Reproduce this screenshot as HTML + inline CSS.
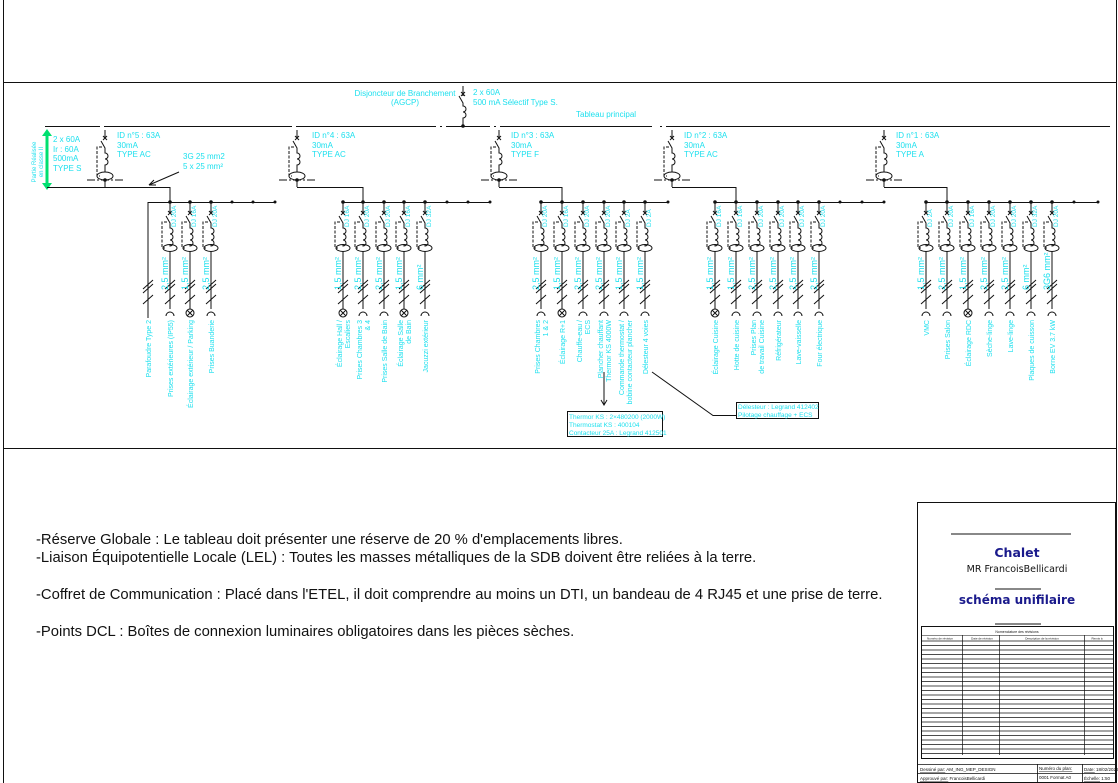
<!DOCTYPE html>
<html><head><meta charset="utf-8"><style>
html,body{margin:0;padding:0;background:#fff;width:1118px;height:783px;overflow:hidden}
svg{display:block}
.c{fill:#1ee0ee;font-family:"Liberation Sans",sans-serif}
.k{stroke:#111;fill:none;stroke-width:1}
.n{font-family:"Liberation Sans",sans-serif;font-size:14.8px;fill:#111}
</style></head><body>
<svg width="1118" height="783" viewBox="0 0 1118 783">
<defs>
<g id="br">
 <line x1="0" y1="202" x2="0" y2="213" stroke="#111"/>
 <circle cx="0" cy="202" r="1.8" fill="#111"/>
 <path d="M-2,211 L2,215 M2,211 L-2,215" stroke="#111"/>
 <path d="M-4,216 L0,223 L0,228 a3,3 0 0 1 0,6 a3,3 0 0 1 0,6 a3,3 0 0 1 0,6 L0,245" class="k"/>
 <path d="M-3,222 L-8,222 L-8,248 L-5,248" class="k" stroke-dasharray="3,1.5"/>
 <ellipse cx="0" cy="248" rx="7" ry="3.5" class="k"/>
 <line x1="0" y1="251" x2="0" y2="309" stroke="#111"/>
 <path d="M-5,289 L5,280 M-5,293 L5,284 M-5,304 L5,295" stroke="#111"/>
</g>
<path id="cup" d="M-4,316 a4,4 0 0 1 8,0" class="k"/>
<g id="lamp"><circle cx="0" cy="313" r="4" class="k"/><path d="M-3,310 L3,316 M3,310 L-3,316" stroke="#111"/></g>
<g id="ib">
 <line x1="0" y1="130" x2="0" y2="138" stroke="#111"/>
 <path d="M-2,136 L2,140 M2,136 L-2,140" stroke="#111"/>
 <path d="M-4,141 L0,148 L0,153 a3,3 0 0 1 0,6 a3,3 0 0 1 0,6 L0,172" class="k"/>
 <path d="M-3,147 L-8,147 L-8,176 L-5,176" class="k" stroke-dasharray="3,1.5"/>
 <ellipse cx="0" cy="176" rx="8" ry="4" class="k"/>
 <line x1="-18" y1="180" x2="18" y2="180" stroke="#111" stroke-dasharray="8,2,2,2"/>
 <line x1="0" y1="180" x2="0" y2="187" stroke="#111"/>
 <circle cx="0" cy="180" r="1.8" fill="#111"/>
</g>
</defs>

<path d="M3.5,0 V783 M1116.5,0 V783 M3,82.5 H1117 M3,448.5 H1117" class="k"/>

<line x1="463" y1="86" x2="463" y2="96" stroke="#111"/>
<path d="M461,92 L465,96 M465,92 L461,96" stroke="#111"/>
<path d="M459,96 L463,103 L463,106 a3,3 0 0 1 0,6 a3,3 0 0 1 0,6 L463,126" class="k"/>
<circle cx="463" cy="126" r="1.8" fill="#111"/>
<text class="c" font-size="8" x="405" y="96" text-anchor="middle">Disjoncteur de Branchement</text>
<text class="c" font-size="8" x="405" y="105" text-anchor="middle">(AGCP)</text>
<text class="c" font-size="8" x="473" y="95">2 x 60A</text>
<text class="c" font-size="8" x="473" y="105">500 mA Sélectif Type S.</text>
<text class="c" font-size="8" x="576" y="117">Tableau principal</text>

<path d="M45,126.5 H436 M440,126.5 H442 M446,126.5 H490 M494,126.5 H496 M500,126.5 H652 M660,126.5 H662 M666,126.5 H1110" stroke="#111"/>
<path d="M100,126.5 H104 M292,126.5 H296" stroke="#fff" stroke-width="2"/>

<line x1="47" y1="133" x2="47" y2="186" stroke="#00e070" stroke-width="3"/>
<path d="M42,136 L47,129 L52,136 Z M42,183 L47,190 L52,183 Z" fill="#00e070"/>
<text class="c" font-size="6" transform="translate(36,162) rotate(-90)" text-anchor="middle">Partie Réalisée</text>
<text class="c" font-size="6" transform="translate(43,162) rotate(-90)" text-anchor="middle">en classe II</text>
<text class="c" font-size="8" x="53" y="142">2 x 60A</text>
<text class="c" font-size="8" x="53" y="152">Ir : 60A</text>
<text class="c" font-size="8" x="53" y="161">500mA</text>
<text class="c" font-size="8" x="53" y="171">TYPE S</text>
<text class="c" font-size="8" x="183" y="159">3G 25 mm2</text>
<text class="c" font-size="8" x="183" y="169">5 x 25 mm²</text>
<path d="M179,172 L149,185" stroke="#111"/><path d="M149,185 L154,180 M149,185 L156,185" stroke="#111"/>

<use href="#ib" x="105"/>
<text class="c" font-size="8" x="117" y="138">ID n°5 : 63A</text><text class="c" font-size="8" x="117" y="148">30mA</text><text class="c" font-size="8" x="117" y="157">TYPE AC</text>
<path d="M47,187.5 H170 V202 M148,202.5 H275 M148,202 V318" class="k"/>
<path d="M143,289 L153,280 M143,293 L153,284 M143,304 L153,295" stroke="#111"/>
<circle cx="232" cy="202" r="1.5" fill="#111"/><circle cx="253" cy="202" r="1.5" fill="#111"/><circle cx="275" cy="202" r="1.5" fill="#111"/>
<use href="#br" x="170"/><use href="#cup" x="170"/>
<use href="#br" x="190"/><use href="#lamp" x="190"/>
<use href="#br" x="211"/><use href="#cup" x="211"/>

<use href="#ib" x="297"/>
<text class="c" font-size="8" x="312" y="138">ID n°4 : 63A</text><text class="c" font-size="8" x="312" y="148">30mA</text><text class="c" font-size="8" x="312" y="157">TYPE AC</text>
<path d="M297,187.5 H363 V202 M343,202.5 H490" class="k"/>
<circle cx="447" cy="202" r="1.5" fill="#111"/><circle cx="468" cy="202" r="1.5" fill="#111"/><circle cx="490" cy="202" r="1.5" fill="#111"/>
<use href="#br" x="343"/><use href="#lamp" x="343"/>
<use href="#br" x="363"/><use href="#cup" x="363"/>
<use href="#br" x="384"/><use href="#cup" x="384"/>
<use href="#br" x="404"/><use href="#lamp" x="404"/>
<use href="#br" x="425"/><use href="#cup" x="425"/>

<use href="#ib" x="499"/>
<text class="c" font-size="8" x="511" y="138">ID n°3 : 63A</text><text class="c" font-size="8" x="511" y="148">30mA</text><text class="c" font-size="8" x="511" y="157">TYPE F</text>
<path d="M499,187.5 H562 V202 M541,202.5 H668" class="k"/>
<circle cx="668" cy="202" r="1.5" fill="#111"/>
<use href="#br" x="541"/><use href="#cup" x="541"/>
<use href="#br" x="562"/><use href="#lamp" x="562"/>
<use href="#br" x="583"/><use href="#cup" x="583"/>
<use href="#br" x="604"/><use href="#cup" x="604"/>
<use href="#br" x="624"/><use href="#cup" x="624"/>
<use href="#br" x="645"/><use href="#cup" x="645"/>

<use href="#ib" x="672"/>
<text class="c" font-size="8" x="684" y="138">ID n°2 : 63A</text><text class="c" font-size="8" x="684" y="148">30mA</text><text class="c" font-size="8" x="684" y="157">TYPE AC</text>
<path d="M672,187.5 H736 V202 M715,202.5 H884" class="k"/>
<circle cx="840" cy="202" r="1.5" fill="#111"/><circle cx="862" cy="202" r="1.5" fill="#111"/><circle cx="884" cy="202" r="1.5" fill="#111"/>
<use href="#br" x="715"/><use href="#lamp" x="715"/>
<use href="#br" x="736"/><use href="#cup" x="736"/>
<use href="#br" x="757"/><use href="#cup" x="757"/>
<use href="#br" x="778"/><use href="#cup" x="778"/>
<use href="#br" x="798"/><use href="#cup" x="798"/>
<use href="#br" x="819"/><use href="#cup" x="819"/>

<use href="#ib" x="884"/>
<text class="c" font-size="8" x="896" y="138">ID n°1 : 63A</text><text class="c" font-size="8" x="896" y="148">30mA</text><text class="c" font-size="8" x="896" y="157">TYPE A</text>
<path d="M884,187.5 H947 V202 M926,202.5 H1098" class="k"/>
<circle cx="1074" cy="202" r="1.5" fill="#111"/><circle cx="1098" cy="202" r="1.5" fill="#111"/>
<use href="#br" x="926"/><use href="#cup" x="926"/>
<use href="#br" x="947"/><use href="#cup" x="947"/>
<use href="#br" x="968"/><use href="#lamp" x="968"/>
<use href="#br" x="989"/><use href="#cup" x="989"/>
<use href="#br" x="1010"/><use href="#cup" x="1010"/>
<use href="#br" x="1031"/><use href="#cup" x="1031"/>
<use href="#br" x="1052"/><use href="#cup" x="1052"/>

<g class="c" font-size="6.5">
<text transform="translate(176,227) rotate(-90)">DJ 20A</text>
<text transform="translate(196,227) rotate(-90)">DJ 16A</text>
<text transform="translate(217,227) rotate(-90)">DJ 20A</text>
<text transform="translate(349,227) rotate(-90)">DJ 16A</text>
<text transform="translate(369,227) rotate(-90)">DJ 20A</text>
<text transform="translate(390,227) rotate(-90)">DJ 20A</text>
<text transform="translate(410,227) rotate(-90)">DJ 16A</text>
<text transform="translate(431,227) rotate(-90)">DJ 32A</text>
<text transform="translate(547,227) rotate(-90)">DJ 20A</text>
<text transform="translate(568,227) rotate(-90)">DJ 16A</text>
<text transform="translate(589,227) rotate(-90)">DJ 20A</text>
<text transform="translate(610,227) rotate(-90)">DJ 20A</text>
<text transform="translate(630,227) rotate(-90)">DJ 2A</text>
<text transform="translate(651,227) rotate(-90)">DJ 2A</text>
<text transform="translate(721,227) rotate(-90)">DJ 16A</text>
<text transform="translate(742,227) rotate(-90)">DJ 16A</text>
<text transform="translate(763,227) rotate(-90)">DJ 20A</text>
<text transform="translate(784,227) rotate(-90)">DJ 20A</text>
<text transform="translate(804,227) rotate(-90)">DJ 20A</text>
<text transform="translate(825,227) rotate(-90)">DJ 20A</text>
<text transform="translate(932,227) rotate(-90)">DJ 2A</text>
<text transform="translate(953,227) rotate(-90)">DJ 20A</text>
<text transform="translate(974,227) rotate(-90)">DJ 16A</text>
<text transform="translate(995,227) rotate(-90)">DJ 20A</text>
<text transform="translate(1016,227) rotate(-90)">DJ 20A</text>
<text transform="translate(1037,227) rotate(-90)">DJ 32A</text>
<text transform="translate(1058,227) rotate(-90)">DJ 20A</text>
</g>
<g class="c" font-size="9">
<text transform="translate(168,290) rotate(-90)">2,5 mm²</text>
<text transform="translate(188,290) rotate(-90)">1,5 mm²</text>
<text transform="translate(209,290) rotate(-90)">2,5 mm²</text>
<text transform="translate(341,290) rotate(-90)">1,5 mm²</text>
<text transform="translate(361,290) rotate(-90)">2,5 mm²</text>
<text transform="translate(382,290) rotate(-90)">2,5 mm²</text>
<text transform="translate(402,290) rotate(-90)">1,5 mm²</text>
<text transform="translate(423,290) rotate(-90)">6 mm²</text>
<text transform="translate(539,290) rotate(-90)">2,5 mm²</text>
<text transform="translate(560,290) rotate(-90)">1,5 mm²</text>
<text transform="translate(581,290) rotate(-90)">2,5 mm²</text>
<text transform="translate(602,290) rotate(-90)">2,5 mm²</text>
<text transform="translate(622,290) rotate(-90)">1,5 mm²</text>
<text transform="translate(643,290) rotate(-90)">1,5 mm²</text>
<text transform="translate(713,290) rotate(-90)">1,5 mm²</text>
<text transform="translate(734,290) rotate(-90)">1,5 mm²</text>
<text transform="translate(755,290) rotate(-90)">2,5 mm²</text>
<text transform="translate(776,290) rotate(-90)">2,5 mm²</text>
<text transform="translate(796,290) rotate(-90)">2,5 mm²</text>
<text transform="translate(817,290) rotate(-90)">2,5 mm²</text>
<text transform="translate(924,290) rotate(-90)">1,5 mm²</text>
<text transform="translate(945,290) rotate(-90)">2,5 mm²</text>
<text transform="translate(966,290) rotate(-90)">1,5 mm²</text>
<text transform="translate(987,290) rotate(-90)">2,5 mm²</text>
<text transform="translate(1008,290) rotate(-90)">2,5 mm²</text>
<text transform="translate(1029,290) rotate(-90)">6 mm²</text>
<text transform="translate(1050,290) rotate(-90)">3G6 mm²</text>
</g>
<g class="c" font-size="7" text-anchor="end">
<text transform="translate(151,320) rotate(-90)">Parafoudre Type 2</text>
<text transform="translate(173,320) rotate(-90)">Prises extérieures (IP55)</text>
<text transform="translate(193,320) rotate(-90)">Éclairage extérieur / Parking</text>
<text transform="translate(214,320) rotate(-90)">Prises Buanderie</text>
<text transform="translate(342,320) rotate(-90)">Éclairage Hall /</text>
<text transform="translate(350,320) rotate(-90)">Escaliers</text>
<text transform="translate(362,320) rotate(-90)">Prises Chambres 3</text>
<text transform="translate(370,320) rotate(-90)">&amp; 4</text>
<text transform="translate(387,320) rotate(-90)">Prises Salle de Bain</text>
<text transform="translate(403,320) rotate(-90)">Éclairage Salle</text>
<text transform="translate(411,320) rotate(-90)">de Bain</text>
<text transform="translate(428,320) rotate(-90)">Jacuzzi extérieur</text>
<text transform="translate(540,320) rotate(-90)">Prises Chambres</text>
<text transform="translate(548,320) rotate(-90)">1 &amp; 2</text>
<text transform="translate(565,320) rotate(-90)">Éclairage R+1</text>
<text transform="translate(582,320) rotate(-90)">Chauffe-eau /</text>
<text transform="translate(590,320) rotate(-90)">ECS</text>
<text transform="translate(603,320) rotate(-90)">Plancher chauffant</text>
<text transform="translate(611,320) rotate(-90)">Thermor KS 4000W</text>
<text transform="translate(624,320) rotate(-90)">Commande thermostat /</text>
<text transform="translate(632,320) rotate(-90)">bobine contacteur plancher</text>
<text transform="translate(648,320) rotate(-90)">Délesteur 4 voies</text>
<text transform="translate(718,320) rotate(-90)">Éclairage Cuisine</text>
<text transform="translate(739,320) rotate(-90)">Hotte de cuisine</text>
<text transform="translate(756,320) rotate(-90)">Prises Plan</text>
<text transform="translate(764,320) rotate(-90)">de travail Cuisine</text>
<text transform="translate(781,320) rotate(-90)">Réfrigérateur</text>
<text transform="translate(801,320) rotate(-90)">Lave-vaisselle</text>
<text transform="translate(822,320) rotate(-90)">Four électrique</text>
<text transform="translate(929,320) rotate(-90)">VMC</text>
<text transform="translate(950,320) rotate(-90)">Prises Salon</text>
<text transform="translate(971,320) rotate(-90)">Éclairage RDC</text>
<text transform="translate(992,320) rotate(-90)">Sèche-linge</text>
<text transform="translate(1013,320) rotate(-90)">Lave-linge</text>
<text transform="translate(1034,320) rotate(-90)">Plaques de cuisson</text>
<text transform="translate(1055,320) rotate(-90)">Borne EV 3.7 kW</text>
</g>

<line x1="604" y1="372" x2="604" y2="405" stroke="#111"/>
<path d="M601,400 L604,405 L607,400" class="k"/>
<rect x="567.5" y="411.5" width="95" height="25" class="k"/>
<text class="c" font-size="6.5" x="569" y="419">Thermor KS : 2×480200 (2000W)</text>
<text class="c" font-size="6.5" x="569" y="427">Thermostat KS : 400104</text>
<text class="c" font-size="6.5" x="569" y="435">Contacteur 25A : Legrand 412501</text>
<path d="M652,372 L713,415.5 H736" class="k"/>
<rect x="736.5" y="402.5" width="82" height="16" class="k"/>
<text class="c" font-size="6.5" x="738" y="409">Délesteur : Legrand 412402</text>
<text class="c" font-size="6.5" x="738" y="417">Pilotage chauffage + ECS</text>

<text class="n" x="36" y="544">-Réserve Globale : Le tableau doit présenter une réserve de 20 % d'emplacements libres.</text>
<text class="n" x="36" y="562">-Liaison Équipotentielle Locale (LEL) : Toutes les masses métalliques de la SDB doivent être reliées à la terre.</text>
<text class="n" x="36" y="599">-Coffret de Communication : Placé dans l'ETEL, il doit comprendre au moins un DTI, un bandeau de 4 RJ45 et une prise de terre.</text>
<text class="n" x="36" y="636">-Points DCL : Boîtes de connexion luminaires obligatoires dans les pièces sèches.</text>

<rect x="917.5" y="502.5" width="198" height="280" class="k"/>
<line x1="951" y1="534" x2="1071" y2="534" stroke="#111"/>
<text x="1017" y="557" text-anchor="middle" font-family="'DejaVu Sans',sans-serif" font-size="12.5" font-weight="bold" fill="#1a1a8c">Chalet</text>
<text x="1017" y="572" text-anchor="middle" font-family="'DejaVu Sans',sans-serif" font-size="9.5" fill="#111">MR FrancoisBellicardi</text>
<line x1="995" y1="589" x2="1041" y2="589" stroke="#111"/>
<text x="1017" y="604" text-anchor="middle" font-family="'DejaVu Sans',sans-serif" font-size="12" font-weight="bold" fill="#1a1a8c">schéma unifilaire</text>
<line x1="995" y1="624" x2="1041" y2="624" stroke="#111"/>
<rect x="921.5" y="626.5" width="192" height="132" class="k"/>
<text x="1017" y="633" text-anchor="middle" font-family="'Liberation Sans',sans-serif" font-size="3.5" fill="#111">Nomenclature des révisions</text>
<line x1="922" y1="635.5" x2="1113" y2="635.5" stroke="#111" stroke-width=".6"/>
<text x="940" y="639.5" text-anchor="middle" font-family="'Liberation Sans',sans-serif" font-size="3" fill="#111">Numéro de révision</text>
<text x="982" y="639.5" text-anchor="middle" font-family="'Liberation Sans',sans-serif" font-size="3" fill="#111">Date de révision</text>
<text x="1042" y="639.5" text-anchor="middle" font-family="'Liberation Sans',sans-serif" font-size="3" fill="#111">Description de la révision</text>
<text x="1097" y="639.5" text-anchor="middle" font-family="'Liberation Sans',sans-serif" font-size="3" fill="#111">Remis à</text>
<path d="M962.5,635 V755 M999.5,635 V755 M1084.5,635 V755" stroke="#111" stroke-width=".7"/>
<g stroke="#111" stroke-width=".8">
<line x1="922" x2="1113" y1="641" y2="641"/><line x1="922" x2="1113" y1="645.5" y2="645.5"/><line x1="922" x2="1113" y1="650" y2="650"/><line x1="922" x2="1113" y1="654.5" y2="654.5"/><line x1="922" x2="1113" y1="659" y2="659"/><line x1="922" x2="1113" y1="663.5" y2="663.5"/><line x1="922" x2="1113" y1="668" y2="668"/><line x1="922" x2="1113" y1="672.5" y2="672.5"/><line x1="922" x2="1113" y1="677" y2="677"/><line x1="922" x2="1113" y1="681.5" y2="681.5"/><line x1="922" x2="1113" y1="686" y2="686"/><line x1="922" x2="1113" y1="690.5" y2="690.5"/><line x1="922" x2="1113" y1="695" y2="695"/><line x1="922" x2="1113" y1="699.5" y2="699.5"/><line x1="922" x2="1113" y1="704" y2="704"/><line x1="922" x2="1113" y1="708.5" y2="708.5"/><line x1="922" x2="1113" y1="713" y2="713"/><line x1="922" x2="1113" y1="717.5" y2="717.5"/><line x1="922" x2="1113" y1="722" y2="722"/><line x1="922" x2="1113" y1="726.5" y2="726.5"/><line x1="922" x2="1113" y1="731" y2="731"/><line x1="922" x2="1113" y1="735.5" y2="735.5"/><line x1="922" x2="1113" y1="740" y2="740"/><line x1="922" x2="1113" y1="744.5" y2="744.5"/><line x1="922" x2="1113" y1="749" y2="749"/><line x1="922" x2="1113" y1="753.5" y2="753.5"/>
</g>
<path d="M918,764.5 H1116 M918,773.5 H1116 M1037.5,764 V783 M1082.5,764 V783" stroke="#111" stroke-width=".8"/>
<g font-family="'Liberation Sans',sans-serif" font-size="4.5" fill="#111">
<text x="920" y="771"><tspan text-decoration="underline">Dessiné par:</tspan>   AM_ING_MEP_DESIGN</text>
<text x="920" y="780"><tspan text-decoration="underline">Approuvé par:</tspan> FrancoisBellicardi</text>
<text x="1039" y="770" text-decoration="underline">Numéro du plan:</text>
<text x="1039" y="779">0001 Format A0</text>
<text x="1084" y="771"><tspan text-decoration="underline">Date:</tspan> 18/02/2026</text>
<text x="1084" y="780"><tspan text-decoration="underline">Échelle:</tspan> 1:50</text>
</g>
</svg>
</body></html>
